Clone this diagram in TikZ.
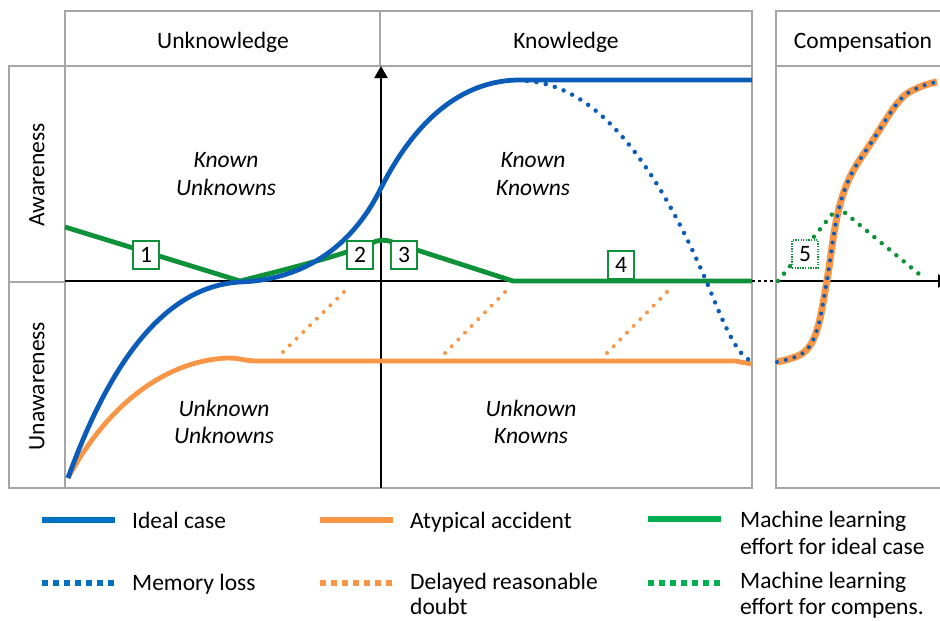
\documentclass[tikz,border=0pt]{standalone}
\usepackage{fontspec}
\setmainfont{Carlito}
\usetikzlibrary{arrows.meta}
\definecolor{gridgray}{HTML}{A6A6A6}
\definecolor{cblue}{HTML}{0A5CB8}
\definecolor{corange}{HTML}{F79646}
\definecolor{cgreen}{HTML}{0E9138}
\definecolor{lblue}{HTML}{0070C0}
\definecolor{lgreen}{HTML}{00B050}
\begin{document}
\begin{tikzpicture}[x=1pt,y=-1pt,
  font=\fontsize{23.5}{27}\selectfont,
  frame/.style={draw=gridgray, line width=2.2pt},
  axisline/.style={draw=black, line width=2.2pt},
  bluecurve/.style={draw=cblue, line width=4.8pt},
  orangecurve/.style={draw=corange, line width=4.8pt},
  greencurve/.style={draw=cgreen, line width=4.8pt},
  dotline/.style={line width=4.5pt, line cap=round, dash pattern=on 0pt off 9.5pt},
  numbox/.style={draw=cgreen, fill=white, line width=1.3pt, minimum width=26pt, minimum height=28pt, inner sep=0pt},
  quad/.style={font=\fontsize{23.5}{27}\selectfont\itshape, anchor=base},
  head/.style={anchor=base},
  legtext/.style={anchor=base west, inner sep=0pt},
  legsolid/.style={line width=6pt},
  legdot/.style={line width=6pt, dash pattern=on 6pt off 5pt}
]
\useasboundingbox (0,0) rectangle (940,621);

% frames
\draw[frame] (65,11) rectangle (752,66);
\draw[frame] (380,11) -- (380,66);
\draw[frame] (65,66) rectangle (752,488);
\draw[frame] (9,66) rectangle (65,488);
\draw[frame] (9,282) -- (65,282);
\draw[frame] (960,11) -- (776,11) -- (776,488) -- (960,488);
\draw[frame] (776,66) -- (960,66);

% headers
\node[head] (hU) at (223,48) {Unknowledge};
\node[head] (hK) at (566,48) {Knowledge};
\node[head] (hC) at (863,48) {Compensation};
\node[rotate=90] (aw) at (37,175) {Awareness};
\node[rotate=90] (uaw) at (37,386) {Unawareness};

% quadrant labels
\node[quad] (q1a) at (226,167) {Known};
\node[quad] (q1b) at (226,195) {Unknowns};
\node[quad] (q2a) at (533,167) {Known};
\node[quad] (q2b) at (533,195) {Knowns};
\node[quad] (q3a) at (224,416) {Unknown};
\node[quad] (q3b) at (224,443) {Unknowns};
\node[quad] (q4a) at (531,416) {Unknown};
\node[quad] (q4b) at (531,443) {Knowns};

% axes
\draw[axisline] (65,281) -- (752,281);
\draw[axisline, dash pattern=on 3pt off 3pt] (752,281) -- (776,281);
\draw[axisline, -{Triangle[length=12pt,width=13pt]}] (381,488) -- (381,66);
\draw[axisline, -{Triangle[length=12pt,width=13pt]}] (776,281) -- (950,281);

% green ML effort (ideal)
\draw[greencurve, line join=round] (65,227) -- (240,281)
  .. controls (300,266) and (345,254) .. (372,243)
  .. controls (377,240) and (385,239) .. (392,242)
  -- (513,281) -- (752,281);

% green dotted compensation
\draw[cgreen, dotline] (778,281) -- (838,207) -- (925,279);

% orange atypical accident
\draw[orangecurve] (68,478) .. controls (110,400) and (170,360) .. (228,358)
  .. controls (240,358) and (245,361) .. (258,361) -- (735,361) -- (752,364);
% orange delayed doubt
\draw[corange, dotline, line width=4pt] (283,352) -- (347,289);
\draw[corange, dotline, line width=4pt] (445,353) -- (508,289);
\draw[corange, dotline, line width=4pt] (607,353) -- (670,289);

% blue ideal case
\draw[bluecurve] (68,478) .. controls (115,348) and (172,286) .. (240,282)
  .. controls (300,280) and (350,250) .. (380,190)
  .. controls (420,110) and (470,80) .. (520,80) -- (752,80);
% blue memory loss
\draw[cblue, dotline] (527,81) .. controls (600,86) and (660,170) .. (710,290)
  .. controls (728,335) and (740,358) .. (752,361);

% compensation curve
\draw[corange, line width=7pt] plot[smooth, tension=0.6] coordinates {(777,362) (803,353) (817,330) (827,280) (837,217) (850,177) (873,140) (900,100) (920,87) (937,82)};
\draw[cblue, dotline, line width=4pt, dash pattern=on 0pt off 9pt] plot[smooth, tension=0.6] coordinates {(777,362) (803,353) (817,330) (827,280) (837,217) (850,177) (873,140) (900,100) (920,87) (937,82)};

% number boxes
\node[numbox] (b1) at (146,255) {1};
\node[numbox] (b2) at (360,255) {2};
\node[numbox] (b3) at (404,255) {3};
\node[numbox] (b4) at (621,265) {4};
\node[numbox, dash pattern=on 1.3pt off 1.3pt] (b5) at (805,254) {5};

% legend
\draw[lblue, legsolid] (42,520) -- (115,520);
\node[legtext] (l1) at (132,528) {Ideal case};
\draw[corange, legsolid] (320,520) -- (393,520);
\node[legtext] (l2) at (410,528) {Atypical accident};
\draw[lgreen, legsolid] (648,519) -- (721,519);
\node[legtext] (l3a) at (740,527) {Machine learning};
\node[legtext] (l3b) at (740,554) {effort for ideal case};

\draw[lblue, legdot] (42,583) -- (115,583);
\node[legtext] (l4) at (132,590) {Memory loss};
\draw[corange, legdot] (320,583) -- (393,583);
\node[legtext] (l5a) at (410,589) {Delayed reasonable};
\node[legtext] (l5b) at (410,614) {doubt};
\draw[lgreen, legdot] (648,583) -- (721,583);
\node[legtext] (l6a) at (740,588) {Machine learning};
\node[legtext] (l6b) at (740,614) {effort for compens.};
\end{tikzpicture}
\end{document}
